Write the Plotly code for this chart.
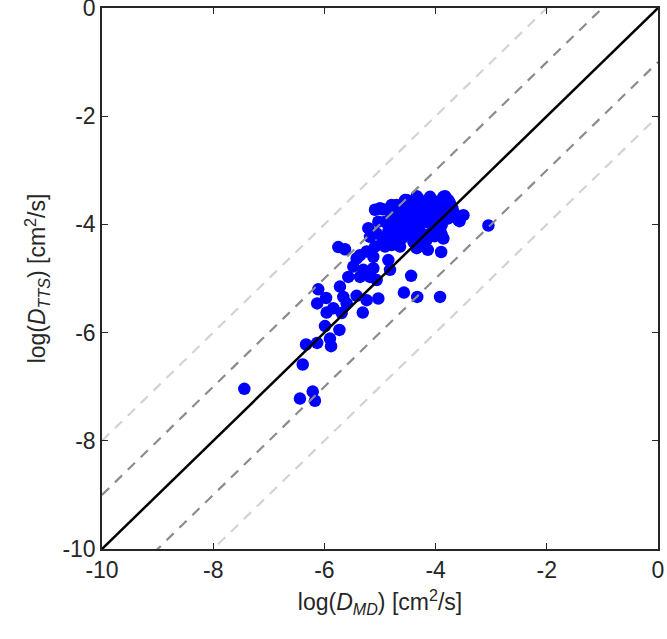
import plotly.graph_objects as go

# Scatter data: log(D_MD), log(D_TTS)
x_md = [-7.44, -6.44, -6.21, -6.17, -6.39, -6.33, -6.13, -5.90, -5.88, -5.73,
        -5.99, -5.96, -6.13, -6.11, -5.97, -5.84, -5.69, -5.72, -5.66, -5.60,
        -5.31, -5.42, -5.24, -5.03, -5.57, -5.48, -5.36, -5.18, -5.06, -5.30,
        -5.12, -5.36, -5.24, -5.12, -5.42, -5.75, -5.63, -4.85, -4.82, -4.91,
        -4.79, -4.64, -4.88, -5.06, -5.18, -5.21, -5.09, -4.95, -5.03, -4.70,
        -4.44, -4.57, -4.33, -3.92, -3.90, -4.14, -4.34, -3.86, -3.92, -3.05,
        -3.50, -3.57, -3.83, -3.77, -5.00, -4.79, -4.55, -4.31, -4.10, -3.86,
        -3.74, -3.68, -3.59, -3.89, -3.89, -4.13, -4.22, -4.37, -4.49, -4.61,
        -4.73, -4.85, -4.91, -4.73, -4.61, -4.49, -4.31, -4.13, -3.95, -4.37,
        -4.19, -4.04, -4.49, -4.25, -4.01, -3.77, -4.55, -4.28, -4.04, -4.67,
        -3.80, -4.40, -5.09, -4.95, -4.60,
        -4.42, -4.20, -3.98, -4.65, -4.46, -4.24, -4.06, -3.96, -4.58, -4.35,
        -4.15, -3.82, -4.70, -4.52, -4.30, -4.10, -3.70, -4.80, -4.43, -4.02,
        -4.26, -3.93, -4.62, -4.17, -4.40, -3.64, -4.85, -4.52, -4.08, -4.34]
y_tts = [-7.04, -7.22, -7.09, -7.26, -6.59, -6.22, -6.19, -6.11, -6.25, -5.95,
         -5.88, -5.63, -5.46, -5.20, -5.36, -5.55, -5.64, -5.15, -5.34, -5.46,
         -5.63, -5.32, -5.40, -5.37, -4.97, -4.78, -4.97, -4.97, -5.03, -4.84,
         -4.81, -4.57, -4.50, -4.60, -4.63, -4.42, -4.46, -4.66, -4.84, -4.41,
         -4.38, -4.41, -4.23, -4.17, -4.23, -4.07, -3.73, -3.72, -3.95, -3.64,
         -4.95, -5.26, -5.34, -5.34, -4.51, -4.47, -4.44, -4.26, -4.10, -4.02,
         -3.83, -3.94, -3.48, -3.55, -3.70, -3.64, -3.55, -3.52, -3.49, -3.49,
         -3.61, -3.77, -3.92, -4.01, -4.19, -4.19, -4.38, -4.32, -4.19, -4.26,
         -4.19, -4.13, -3.95, -3.89, -3.77, -3.89, -3.77, -3.70, -3.70, -4.01,
         -3.95, -3.89, -3.64, -3.61, -3.58, -3.89, -4.04, -4.13, -4.07, -4.04,
         -3.64, -4.32, -4.41, -4.30, -3.80,
         -3.60, -3.62, -3.60, -3.75, -3.72, -3.80, -3.78, -3.85, -3.92, -3.92,
         -3.85, -3.72, -4.00, -4.05, -4.00, -3.98, -3.70, -3.80, -4.20, -4.22,
         -4.25, -4.05, -4.15, -4.30, -4.10, -3.86, -4.02, -3.55, -3.55, -3.48]

# Reference lines y = x + offset
line_x = [-10, 0]
line_offsets = [2, 1, 0, -1, -2]
line_colors = ["#d3d3d3", "#8c8c8c", "#000000", "#8c8c8c", "#d3d3d3"]
line_dashes = ["10px,8px", "10px,8px", "solid", "10px,8px", "10px,8px"]
line_widths = [2.2, 2.2, 2.5, 2.2, 2.2]

tick_vals = [-10, -8, -6, -4, -2, 0]
tick_text = ["-10", "-8", "-6", "-4", "-2", "0"]

FONT = "Liberation Sans"

fig = go.Figure()
fig.add_trace(go.Scatter(x=x_md, y=y_tts, mode="markers",
                         marker=dict(color="#0000ff", size=12.5, line=dict(width=0)),
                         showlegend=False))
for off, c, d, w in zip(line_offsets, line_colors, line_dashes, line_widths):
    fig.add_trace(go.Scatter(x=line_x, y=[v + off for v in line_x], mode="lines",
                             line=dict(color=c, dash=d, width=w), showlegend=False,
                             hoverinfo="skip"))

axis_common = dict(range=[-10, 0], tickvals=tick_vals, ticktext=tick_text,
                   ticks="inside", ticklen=6, automargin=False,
                   ticklabeloverflow="allow",
                   tickwidth=1.3, tickcolor="#262626", showline=True, linecolor="#262626",
                   linewidth=1.5, mirror="ticks", showgrid=False, zeroline=False,
                   tickfont=dict(family=FONT, size=23, color="#262626"))

fig.update_layout(
    width=667, height=639,
    margin=dict(l=102, r=9, t=8, b=90),
    plot_bgcolor="white", paper_bgcolor="white",
    font=dict(family=FONT, size=23, color="#262626"),
    xaxis=dict(**axis_common,
               title=dict(text="log(<i>D</i><sub><i>MD</i></sub>) [cm<sup>2</sup>/s]",
                          font=dict(family=FONT, size=23), standoff=12)),
    yaxis=dict(**axis_common,
               title=dict(text="log(<i>D</i><sub><i>TTS</i></sub>) [cm<sup>2</sup>/s]",
                          font=dict(family=FONT, size=23), standoff=10)),
)

fig.write_html("out.html", config={"displayModeBar": False},
               post_script="document.body.style.margin='0';")
